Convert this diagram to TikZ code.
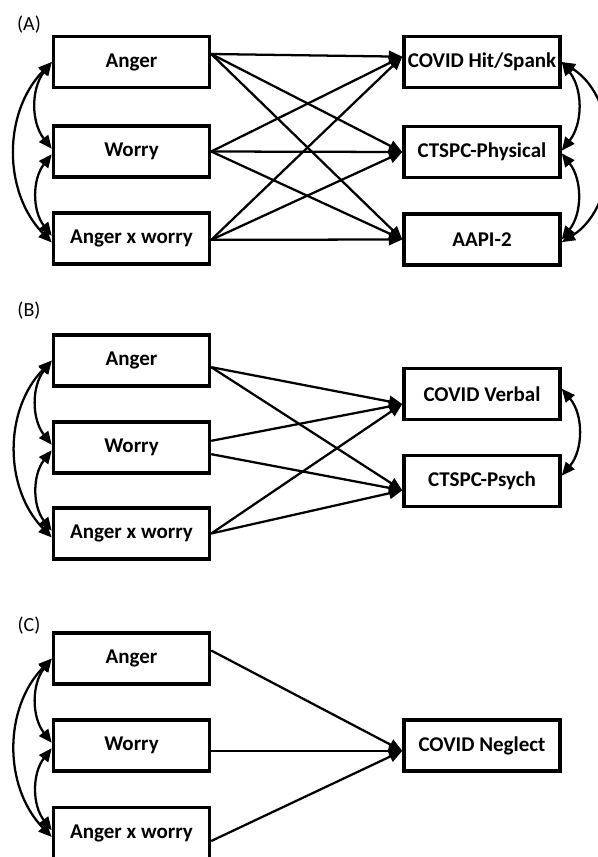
\documentclass[tikz,border=0pt]{standalone}
\usepackage{fontspec}
\setmainfont{Carlito}
\usetikzlibrary{arrows.meta}

\tikzset{
  var/.style={draw, line width=2.6pt, inner sep=0pt, minimum width=117pt, minimum height=38.5pt,
    font=\bfseries\fontsize{15.75}{19}\selectfont},
  regarrow/.style={line width=1.7pt, -{Triangle[length=10pt,width=8.5pt]}},
  covarrow/.style={line width=1.7pt, {Triangle[length=10pt,width=8.5pt]}-{Triangle[length=10pt,width=8.5pt]}},
  panel/.style={font=\fontsize{15}{18}\selectfont}
}

\begin{document}
\begin{tikzpicture}[x=0.75pt,y=-0.75pt]
\useasboundingbox (0,0) rectangle (598,857);

% panel A
\node[panel] (labA) at (29,25) {(A)};
\node[var] (angA) at (131.5,62) {Anger};
\node[var] (worA) at (131.5,151.5) {Worry};
\node[var] (intA) at (131.5,238.5) {Anger x worry};
\node[var] (hitA) at (482,62) {COVID Hit/Spank};
\node[var] (phyA) at (482,152) {CTSPC-Physical};
\node[var] (aapA) at (482,239.5) {AAPI-2};
\foreach \s/\o in {angA/6pt,worA/0pt,intA/-1pt}{
  \draw[regarrow] ([yshift=\o]\s.east) -- ([yshift=4pt]hitA.west);
  \draw[regarrow] ([yshift=\o]\s.east) -- (phyA.west);
  \draw[regarrow] ([yshift=\o]\s.east) -- (aapA.west);
}
\draw[covarrow] (angA.west) to[bend right=38] ([yshift=2pt]worA.west);
\draw[covarrow] ([yshift=-2pt]worA.west) to[bend right=38] ([yshift=2pt]intA.west);
\draw[covarrow] (angA.west) to[bend right=44] ([yshift=-3pt]intA.west);
\draw[covarrow] (hitA.east) to[bend left=38] ([yshift=1pt]phyA.east);
\draw[covarrow] ([yshift=-1pt]phyA.east) to[bend left=38] (aapA.east);
\draw[covarrow] (hitA.east) to[bend left=58] ([yshift=-2pt]aapA.east);

% panel B
\node[panel] (labB) at (29,311) {(B)};
\node[var] (angB) at (131.5,360.5) {Anger};
\node[var] (worB) at (131.5,447.5) {Worry};
\node[var] (intB) at (131.5,533.5) {Anger x worry};
\node[var] (verB) at (482,394) {COVID Verbal};
\node[var] (psyB) at (482,481) {CTSPC-Psych};
\draw[regarrow] ([yshift=-5pt]angB.east) -- ([yshift=-7.5pt]verB.west);
\draw[regarrow] ([yshift=-5pt]angB.east) -- ([yshift=-7pt]psyB.west);
\draw[regarrow] ([yshift=5pt]worB.east) -- ([yshift=-7.5pt]verB.west);
\draw[regarrow] ([yshift=-5pt]worB.east) -- ([yshift=-7pt]psyB.west);
\draw[regarrow] (intB.east) -- ([yshift=-7.5pt]verB.west);
\draw[regarrow] (intB.east) -- ([yshift=-7pt]psyB.west);
\draw[covarrow] (angB.west) to[bend right=38] ([yshift=2pt]worB.west);
\draw[covarrow] ([yshift=-2pt]worB.west) to[bend right=38] ([yshift=2pt]intB.west);
\draw[covarrow] (angB.west) to[bend right=44] ([yshift=-3pt]intB.west);
\draw[covarrow] ([yshift=4pt]verB.east) to[bend left=40] ([yshift=4pt]psyB.east);

% panel C
\node[panel] (labC) at (29,626) {(C)};
\node[var] (angC) at (131.5,658.5) {Anger};
\node[var] (worC) at (131.5,745.5) {Worry};
\node[var] (intC) at (131.5,833) {Anger x worry};
\node[var] (negC) at (482,745.5) {COVID Neglect};
\draw[regarrow] ([yshift=6pt]angC.east) -- ([yshift=-4pt]negC.west);
\draw[regarrow] ([yshift=-4pt]worC.east) -- ([yshift=-4pt]negC.west);
\draw[regarrow] ([yshift=-6pt]intC.east) -- ([yshift=-4pt]negC.west);
\draw[covarrow] (angC.west) to[bend right=38] ([yshift=2pt]worC.west);
\draw[covarrow] ([yshift=-2pt]worC.west) to[bend right=38] ([yshift=2pt]intC.west);
\draw[covarrow] (angC.west) to[bend right=44] ([yshift=-3pt]intC.west);
\end{tikzpicture}
\end{document}
